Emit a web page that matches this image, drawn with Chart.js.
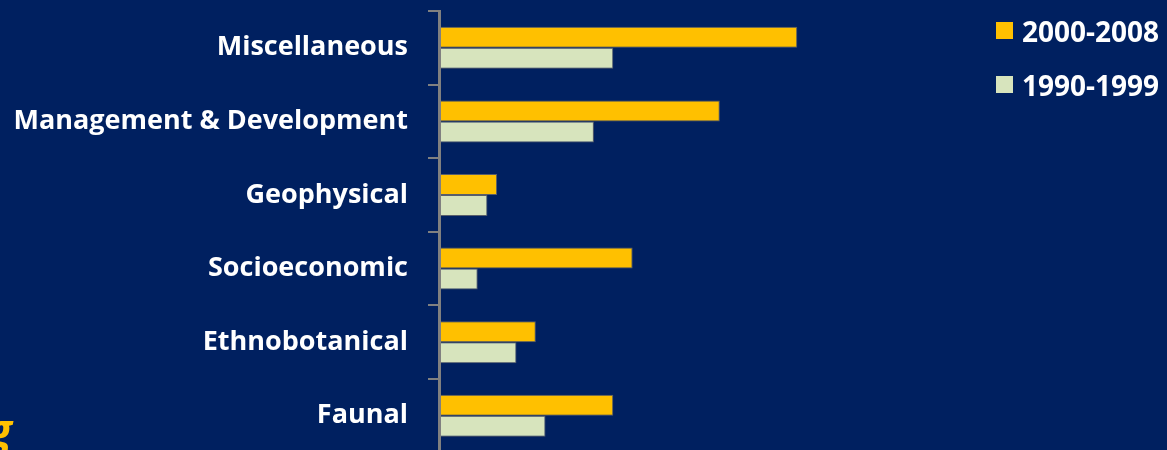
<!DOCTYPE html>
<html>
<head>
<meta charset="utf-8">
<script src="https://cdn.jsdelivr.net/npm/chart.js@4.4.1/dist/chart.umd.min.js"></script>
<style>
  html, body { margin: 0; padding: 0; background: #002060; overflow: hidden; }
  #chart { position: absolute; left: 0; top: 0; display: block; }
  #legend { position: absolute; left: 996px; top: 12px; font-family: "Open Sans", sans-serif; font-weight: 700; font-size: 28px; color: #ffffff; }
  #legend .item { display: flex; align-items: center; height: 37px; margin-bottom: 17px; }
  #legend .box { width: 17px; height: 17px; margin-right: 9px; }
  #corner { position: absolute; left: -12px; top: 399px; font-family: "Open Sans", sans-serif; font-weight: 700; font-style: italic; font-size: 44px; color: #FFC000; }
</style>
</head>
<body>
<canvas id="chart" width="1167" height="464"></canvas>
<div id="legend"></div>
<div id="corner">g</div>
<script>
// Study topics, top to bottom
const categories = ["Miscellaneous", "Management & Development", "Geophysical", "Socioeconomic", "Ethnobotanical", "Faunal"];
const seriesLabels = ["2000-2008", "1990-1999"];
const values2000 = [37, 29, 6, 20, 10, 18];
const values1990 = [18, 16, 5, 4, 8, 11];

const colors = ["#FFC000", "#D7E4BD"];

const chart = new Chart(document.getElementById("chart"), {
  type: "bar",
  data: {
    labels: categories,
    datasets: [
      { label: seriesLabels[0], data: values2000, backgroundColor: colors[0], borderColor: "rgba(110,110,110,0.8)", borderWidth: 1 },
      { label: seriesLabels[1], data: values1990, backgroundColor: colors[1], borderColor: "rgba(110,110,110,0.8)", borderWidth: 1 }
    ]
  },
  options: {
    indexAxis: "y",
    responsive: false,
    animation: false,
    layout: { padding: { top: 11, bottom: 11.4, left: 0, right: 147 } },
    datasets: { bar: { categoryPercentage: 0.571, barPercentage: 1 } },
    plugins: { legend: { display: false }, tooltip: { enabled: false } },
    scales: {
      x: { display: false, min: 0, max: 60 },
      y: {
        // fixed axis width; labels sit between category ticks, so no extra end padding
        afterFit: s => { s.width = 439; s.paddingTop = 0; s.paddingBottom = 0; },
        grid: { display: true, drawOnChartArea: false, drawTicks: true, tickLength: 11, color: "#808080", lineWidth: 2, offset: true, z: 1 },
        border: { display: true, color: "#808080", width: 3, z: 1 },
        ticks: {
          color: "#ffffff",
          padding: 20,
          font: { family: "'Open Sans', sans-serif", weight: "bold", size: 27 }
        }
      }
    }
  }
});

// Legend built from the chart's own datasets
const legend = document.getElementById("legend");
chart.data.datasets.forEach(ds => {
  const item = document.createElement("div");
  item.className = "item";
  const box = document.createElement("span");
  box.className = "box";
  box.style.background = ds.backgroundColor;
  const txt = document.createElement("span");
  txt.textContent = ds.label;
  item.appendChild(box);
  item.appendChild(txt);
  legend.appendChild(item);
});
</script>
</body>
</html>
